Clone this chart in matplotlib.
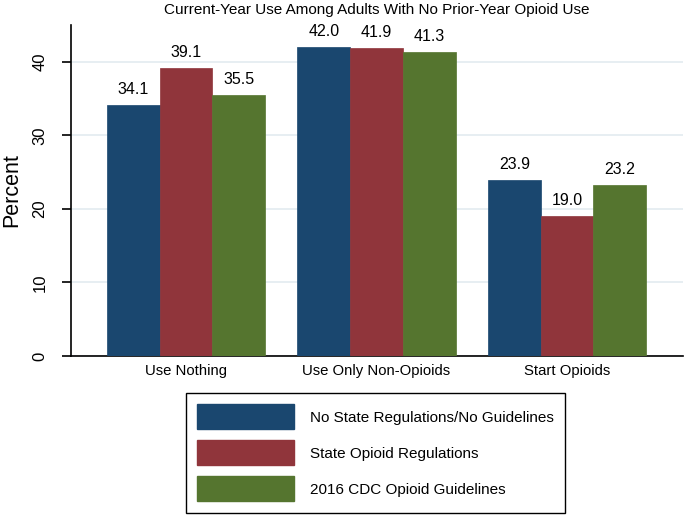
import matplotlib
matplotlib.use("Agg")
import matplotlib.pyplot as plt
import numpy as np
from matplotlib.patches import Patch

plt.rcParams['font.family'] = ['Liberation Sans', 'DejaVu Sans']

categories = ["Use Nothing", "Use Only Non-Opioids", "Start Opioids"]
series_names = ["No State Regulations/No Guidelines", "State Opioid Regulations", "2016 CDC Opioid Guidelines"]
no_regs = [34.1, 42.0, 23.9]
state_regs = [39.1, 41.9, 19.0]
cdc_guidelines = [35.5, 41.3, 23.2]
yticks = [0, 10, 20, 30, 40]
title = "Current-Year Use Among Adults With No Prior-Year Opioid Use"

colors = ["#1a476f", "#90353b", "#55752f"]
series = [no_regs, state_regs, cdc_guidelines]

fig = plt.figure(figsize=(6.85, 5.16), dpi=100)
ax = fig.add_axes([71/685, 160/516, (683-71)/685, (356-25)/516])

x = np.arange(len(categories))
w = 0.2766
for i, (vals, c) in enumerate(zip(series, colors)):
    xs = x + (i - 1) * w
    ax.bar(xs, vals, width=w, color=c, edgecolor=c, linewidth=0.5, zorder=3)
    for xi, v in zip(xs, vals):
        ax.text(xi, v + 1.1, f"{v:.1f}", ha="center", va="bottom", fontsize=11.5, zorder=4)

ax.set_xlim(-0.604, 2.609)
ax.set_ylim(0, 45)
ax.set_yticks(yticks)
ax.set_yticklabels([str(t) for t in yticks], rotation=90, va="center", fontsize=12)
ax.yaxis.grid(True, color="#e3ebf0", linewidth=1.2, zorder=0)
ax.set_axisbelow(True)
ax.set_xticks(x)
ax.set_xticklabels(categories, fontsize=10.7)
ax.tick_params(axis="x", length=0, pad=6)
ax.tick_params(axis="y", length=6.5, width=1.2, pad=10.5)
for s in ["top", "right"]:
    ax.spines[s].set_visible(False)
ax.spines["left"].set_linewidth(1.2)
ax.spines["bottom"].set_linewidth(1.2)
ax.set_ylabel("Percent", fontsize=15.5, labelpad=7.5)
ax.set_title(title, fontsize=11, pad=8)

handles = [Patch(facecolor=c, edgecolor=c) for c in colors]
leg = fig.legend(handles, series_names, loc="upper left",
                 bbox_to_anchor=(186/685, 1 - 393/516), fontsize=11,
                 handlelength=6.35, handleheight=2.14, labelspacing=0.72,
                 handletextpad=1.0, borderpad=0.75, borderaxespad=0,
                 fancybox=False, edgecolor="black", framealpha=1)
leg.get_frame().set_linewidth(1.0)

fig.savefig("out.png", dpi=100)
